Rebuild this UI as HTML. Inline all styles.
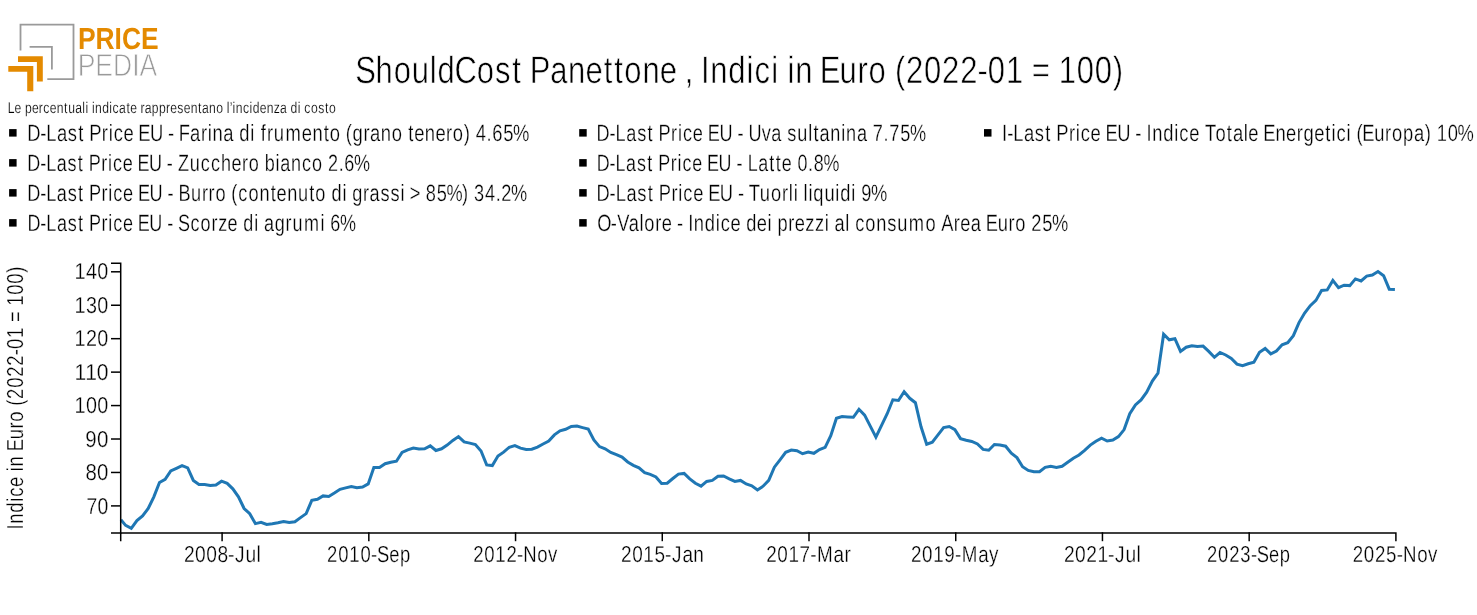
<!DOCTYPE html>
<html><head><meta charset="utf-8"><title>ShouldCost Panettone</title>
<style>html,body{margin:0;padding:0;background:#fff;width:1477px;height:615px;overflow:hidden}
svg{display:block;font-family:"Liberation Sans", sans-serif;will-change:transform}
text{text-rendering:geometricPrecision}
</style></head>
<body><svg width="1477" height="615" viewBox="0 0 1477 615">
<rect width="1477" height="615" fill="#fff"/>
<polyline points="120.90,519.80 125.64,525.40 131.28,528.30 136.92,520.50 142.56,515.90 148.21,508.50 153.85,496.80 159.49,482.50 165.13,479.30 170.77,470.90 176.41,468.30 182.05,465.70 187.69,467.90 193.33,480.40 198.98,484.40 204.62,484.40 210.26,485.40 215.90,485.10 221.54,481.20 227.18,483.40 232.82,488.80 238.46,496.80 244.11,508.50 249.75,513.70 255.39,523.60 261.03,522.30 266.67,524.40 272.31,523.70 277.95,522.80 283.59,521.50 289.23,522.50 294.88,521.70 300.52,517.60 306.16,513.60 311.80,500.40 317.44,499.30 323.08,495.90 328.72,496.50 334.36,493.00 340.00,489.30 345.65,487.90 351.29,486.50 356.93,487.70 362.57,487.10 368.21,483.90 373.85,467.40 379.49,467.40 385.13,463.70 390.78,462.20 396.42,461.20 402.06,452.40 407.70,449.80 413.34,448.00 418.98,448.90 424.62,448.80 430.26,445.90 435.90,450.50 441.55,448.80 447.19,445.10 452.83,440.40 458.47,436.60 464.11,441.90 469.75,443.10 475.39,444.50 481.03,451.00 486.67,464.90 492.32,465.60 497.96,456.10 503.60,452.10 509.24,447.30 514.88,445.60 520.52,448.10 526.16,449.50 531.80,449.20 537.45,447.10 543.09,444.00 548.73,441.00 554.37,434.90 560.01,430.90 565.65,429.30 571.29,426.40 576.93,426.10 582.57,427.60 588.22,429.00 593.86,440.00 599.50,446.60 605.14,448.80 610.78,452.40 616.42,454.60 622.06,457.10 627.70,462.00 633.34,465.30 638.99,467.80 644.63,472.60 650.27,474.40 655.91,477.00 661.55,483.50 667.19,483.20 672.83,478.50 678.47,474.10 684.12,473.40 689.76,478.90 695.40,483.30 701.04,486.20 706.68,481.40 712.32,480.40 717.96,476.30 723.60,476.00 729.24,478.90 734.89,481.40 740.53,480.40 746.17,484.00 751.81,485.80 757.45,489.90 763.09,486.20 768.73,480.40 774.37,467.20 780.01,459.90 785.66,452.30 791.30,450.10 796.94,450.70 802.58,453.70 808.22,452.10 813.86,453.30 819.50,449.50 825.14,447.30 830.78,435.60 836.43,418.30 842.07,416.60 847.71,416.90 853.35,417.30 858.99,409.30 864.63,415.10 870.27,426.10 875.91,437.20 881.56,425.40 887.20,413.70 892.84,399.80 898.48,400.50 904.12,391.70 909.76,398.30 915.40,402.70 921.04,426.80 926.68,444.20 932.33,442.20 937.97,434.90 943.61,427.60 949.25,426.50 954.89,429.60 960.53,438.60 966.17,440.20 971.81,441.50 977.45,444.00 983.10,449.40 988.74,450.20 994.38,444.50 1000.02,445.10 1005.66,446.20 1011.30,453.20 1016.94,457.60 1022.58,466.70 1028.23,470.40 1033.87,471.80 1039.51,471.80 1045.15,467.40 1050.79,466.30 1056.43,467.40 1062.07,466.30 1067.71,462.30 1073.35,458.20 1079.00,455.00 1084.64,450.30 1090.28,445.10 1095.92,441.20 1101.56,438.10 1107.20,441.00 1112.84,440.10 1118.48,436.60 1124.12,429.60 1129.77,413.70 1135.41,404.90 1141.05,400.00 1146.69,392.20 1152.33,381.00 1157.97,373.20 1163.61,334.20 1169.25,339.80 1174.90,338.70 1180.54,351.40 1186.18,347.20 1191.82,345.70 1197.46,346.60 1203.10,346.10 1208.74,351.40 1214.38,357.30 1220.02,352.50 1225.67,355.00 1231.31,358.40 1236.95,364.10 1242.59,365.60 1248.23,363.80 1253.87,362.30 1259.51,352.20 1265.15,348.40 1270.79,353.90 1276.44,351.10 1282.08,344.80 1287.72,342.70 1293.36,335.70 1299.00,322.60 1304.64,313.10 1310.28,305.70 1315.92,300.40 1321.57,290.50 1327.21,289.90 1332.85,280.40 1338.49,287.70 1344.13,285.20 1349.77,285.60 1355.41,278.90 1361.05,281.00 1366.69,276.10 1372.34,275.10 1377.98,271.50 1383.62,275.70 1389.26,289.20 1394.90,289.40" fill="none" stroke="#1f77b4" stroke-width="3" stroke-linejoin="miter"/><g stroke="#000" stroke-width="1.5" fill="none"><path d="M111.0,263.20H120.70V532.95H111.0"/><path d="M111.0,505.90H120.70"/><path d="M111.0,472.46H120.70"/><path d="M111.0,439.01H120.70"/><path d="M111.0,405.57H120.70"/><path d="M111.0,372.13H120.70"/><path d="M111.0,338.68H120.70"/><path d="M111.0,305.24H120.70"/><path d="M111.0,271.80H120.70"/></g><g stroke="#000" stroke-width="1.5" fill="none"><path d="M120.70,541.2V532.95H1395.90V541.2"/><path d="M222.10,532.2V541.2"/><path d="M368.83,532.2V541.2"/><path d="M515.55,532.2V541.2"/><path d="M662.28,532.2V541.2"/><path d="M809.00,532.2V541.2"/><path d="M955.73,532.2V541.2"/><path d="M1102.45,532.2V541.2"/><path d="M1249.18,532.2V541.2"/></g><g class="tx"><text transform="scale(0.81069,1)" x="438.27 463.26 485.55 507.83 530.09 539.75 560.73 588.10 610.67 631.82 643.64 653.60 678.76 700.61 722.15 744.64 757.73 770.10 792.41 813.95 834.93 844.50 854.07 864.83 876.15 898.38 920.80 930.74 951.30 960.24 971.31 980.82 1002.35 1011.29 1035.67 1057.68 1071.38 1093.12 1103.91 1117.48 1139.77 1162.08 1184.37 1205.71 1218.52 1240.81 1262.45 1272.84 1294.93 1305.92 1328.23 1350.52 1372.74" y="82.90" font-size="38.2" fill="#000" stroke="#fff" stroke-width="0.6" vector-effect="non-scaling-stroke">ShouldCost Panettone , Indici in Euro (2022-01 = 100)</text><text transform="scale(0.78126,1)" x="9.93 18.67 27.31 31.89 40.84 49.69 55.48 63.68 72.60 82.08 87.23 96.26 105.32 109.33 113.04 117.61 121.58 130.77 139.99 144.14 152.46 161.85 166.78 175.42 179.81 185.22 194.30 203.51 212.64 218.03 227.04 235.17 244.08 253.57 258.63 267.66 276.88 285.83 290.40 294.04 297.69 301.66 310.97 319.43 323.46 332.42 341.33 350.41 358.51 367.27 371.86 381.09 384.79 389.50 398.01 407.33 415.96 421.11" y="112.90" font-size="15.55" fill="#000" stroke="#fff" stroke-width="0.2" vector-effect="non-scaling-stroke">Le percentuali indicate rappresentano l’incidenza di costo</text><text transform="scale(0.78188,1)" x="34.87 51.44 59.29 72.85 86.81 100.11 107.59 114.09 130.21 138.97 145.34 157.89 171.06 176.96 191.79 208.54 214.90 222.55 228.77 243.12 256.96 265.71 271.83 285.65 299.01 306.08 320.13 325.81 333.42 341.51 350.25 365.03 385.98 399.60 413.92 421.84 435.48 442.32 450.97 464.76 473.07 486.88 500.98 514.63 522.10 529.68 543.30 556.92 570.43 579.17 593.20 601.42 608.46 622.24 629.49 643.58 655.99" y="140.80" font-size="23.5" fill="#000" stroke="#fff" stroke-width="0.3" vector-effect="non-scaling-stroke">D-Last Price EU - Farina di frumento (grano tenero) 4.65%</text><text transform="scale(0.76722,1)" x="35.67 52.35 60.31 74.01 88.11 101.51 109.06 115.67 131.92 140.75 147.22 159.90 173.17 179.18 194.16 211.03 217.46 225.18 232.07 247.27 261.62 274.90 287.93 301.67 315.28 324.14 337.88 345.02 359.16 365.23 379.19 393.54 406.70 420.45 427.59 441.49 448.84 461.40" y="170.80" font-size="23.5" fill="#000" stroke="#fff" stroke-width="0.3" vector-effect="non-scaling-stroke">D-Last Price EU - Zucchero bianco 2.6%</text><text transform="scale(0.77302,1)" x="35.30 51.95 59.89 73.55 87.62 101.00 108.53 115.12 131.33 140.15 146.59 159.25 172.49 178.47 193.42 210.26 216.67 224.38 230.92 247.09 261.16 269.86 278.69 292.41 299.30 308.22 321.36 335.56 350.11 357.77 371.50 385.57 399.97 407.97 421.69 428.83 442.97 448.69 455.82 469.69 478.08 492.15 505.20 518.07 523.79 530.14 543.69 550.81 565.01 577.54 597.75 606.02 613.13 627.34 641.21 648.53 661.05" y="200.80" font-size="23.5" fill="#000" stroke="#fff" stroke-width="0.3" vector-effect="non-scaling-stroke">D-Last Price EU - Burro (contenuto di grassi &gt; 85%) 34.2%</text><text transform="scale(0.76668,1)" x="35.73 52.46 60.45 74.20 88.34 101.78 109.35 116.00 132.29 141.15 147.65 160.38 173.68 179.72 194.75 211.66 218.11 225.86 232.18 248.40 261.61 275.89 284.56 296.83 310.13 317.33 331.53 337.28 344.24 358.31 372.53 381.42 396.44 417.93 423.68 430.87 443.48" y="230.80" font-size="23.5" fill="#000" stroke="#fff" stroke-width="0.3" vector-effect="non-scaling-stroke">D-Last Price EU - Scorze di agrumi 6%</text><text transform="scale(0.77168,1)" x="773.01 789.76 797.77 811.53 825.69 839.15 846.73 853.40 869.70 878.57 885.09 897.83 911.15 917.21 932.27 949.19 955.65 963.41 969.88 987.02 999.42 1012.94 1020.21 1033.20 1047.31 1054.05 1061.98 1076.00 1090.12 1096.40 1110.42 1123.93 1131.12 1145.06 1152.46 1166.77 1179.41" y="140.80" font-size="23.5" fill="#000" stroke="#fff" stroke-width="0.3" vector-effect="non-scaling-stroke">D-Last Price EU - Uva sultanina 7.75%</text><text transform="scale(0.76200,1)" x="783.00 799.80 807.86 821.68 835.91 849.41 857.03 863.75 880.12 889.02 895.58 908.39 921.75 927.86 942.99 959.97 966.47 974.26 981.17 995.00 1009.53 1018.11 1025.90 1039.27 1046.51 1060.50 1067.95 1080.67" y="170.80" font-size="23.5" fill="#000" stroke="#fff" stroke-width="0.3" vector-effect="non-scaling-stroke">D-Last Price EU - Latte 0.8%</text><text transform="scale(0.77784,1)" x="766.96 783.65 791.60 805.30 819.39 832.80 840.34 846.95 863.20 872.03 878.50 891.18 904.44 910.45 925.43 942.29 948.72 956.37 962.64 976.83 991.06 1005.30 1014.12 1020.31 1026.04 1033.09 1039.28 1045.62 1059.83 1073.89 1080.21 1094.36 1100.10 1107.24 1119.80" y="200.80" font-size="23.5" fill="#000" stroke="#fff" stroke-width="0.3" vector-effect="non-scaling-stroke">D-Last Price EU - Tuorli liquidi 9%</text><text transform="scale(0.77712,1)" x="768.46 786.00 794.23 809.04 822.88 829.15 843.17 851.46 864.65 871.03 878.69 885.51 892.79 906.87 920.95 927.34 939.93 953.12 960.21 973.94 987.59 993.28 1000.34 1014.29 1022.58 1036.13 1048.62 1061.19 1066.88 1073.72 1087.57 1093.25 1100.50 1113.56 1127.68 1141.84 1154.66 1169.48 1190.93 1205.25 1211.28 1227.43 1235.72 1249.21 1262.60 1268.41 1283.81 1297.68 1306.44 1320.11 1327.17 1341.30 1353.73" y="230.80" font-size="23.5" fill="#000" stroke="#fff" stroke-width="0.3" vector-effect="non-scaling-stroke">O-Valore - Indice dei prezzi al consumo Area Euro 25%</text><text transform="scale(0.78140,1)" x="1282.23 1288.89 1296.77 1310.38 1324.39 1337.72 1345.22 1351.76 1367.92 1376.71 1383.11 1395.71 1408.91 1414.85 1429.73 1446.52 1452.90 1460.58 1467.40 1474.69 1488.79 1502.88 1509.29 1521.89 1535.02 1542.06 1555.41 1570.04 1577.85 1591.70 1597.51 1610.72 1616.66 1632.20 1645.87 1659.42 1668.15 1681.88 1696.04 1703.99 1710.40 1723.34 1729.03 1735.90 1743.32 1758.74 1772.62 1781.40 1795.61 1809.53 1823.33 1831.57 1838.64 1852.78 1865.24" y="140.80" font-size="23.5" fill="#000" stroke="#fff" stroke-width="0.3" vector-effect="non-scaling-stroke">I-Last Price EU - Indice Totale Energetici (Europa) 10%</text><text transform="scale(0.83420,1)" x="220.51 233.88 247.24 260.61 273.41 281.67 294.26 307.63" y="561.90" font-size="23.0" fill="#000" stroke="#fff" stroke-width="0.3" vector-effect="non-scaling-stroke">2008-Jul</text><text transform="scale(0.80178,1)" x="407.84 421.76 435.69 449.63 462.86 470.13 485.37 498.90" y="561.90" font-size="23.0" fill="#000" stroke="#fff" stroke-width="0.3" vector-effect="non-scaling-stroke">2010-Sep</text><text transform="scale(0.80652,1)" x="586.82 600.51 614.20 627.89 640.95 648.79 666.19 679.61" y="561.90" font-size="23.0" fill="#000" stroke="#fff" stroke-width="0.3" vector-effect="non-scaling-stroke">2012-Nov</text><text transform="scale(0.82658,1)" x="751.29 764.77 778.26 791.75 804.65 813.00 825.58 838.81" y="561.90" font-size="23.0" fill="#000" stroke="#fff" stroke-width="0.3" vector-effect="non-scaling-stroke">2015-Jan</text><text transform="scale(0.82107,1)" x="933.22 946.74 960.26 973.79 986.71 994.95 1015.09 1028.41" y="561.90" font-size="23.0" fill="#000" stroke="#fff" stroke-width="0.3" vector-effect="non-scaling-stroke">2017-Mar</text><text transform="scale(0.81655,1)" x="1115.56 1129.21 1142.86 1156.52 1169.54 1177.92 1198.11 1211.14" y="561.90" font-size="23.0" fill="#000" stroke="#fff" stroke-width="0.3" vector-effect="non-scaling-stroke">2019-May</text><text transform="scale(0.83420,1)" x="1275.42 1288.78 1302.14 1315.51 1328.31 1336.57 1349.17 1362.53" y="561.90" font-size="23.0" fill="#000" stroke="#fff" stroke-width="0.3" vector-effect="non-scaling-stroke">2021-Jul</text><text transform="scale(0.79899,1)" x="1510.64 1524.57 1538.50 1552.43 1565.66 1572.93 1588.17 1601.70" y="561.90" font-size="23.0" fill="#000" stroke="#fff" stroke-width="0.3" vector-effect="non-scaling-stroke">2023-Sep</text><text transform="scale(0.81251,1)" x="1664.78 1678.47 1692.16 1705.86 1718.91 1726.75 1744.15 1757.58" y="561.90" font-size="23.0" fill="#000" stroke="#fff" stroke-width="0.3" vector-effect="non-scaling-stroke">2025-Nov</text><text transform="scale(0.84301,1)" x="102.60 115.78" y="513.50" font-size="23.0" fill="#000" stroke="#fff" stroke-width="0.3" vector-effect="non-scaling-stroke">70</text><text transform="scale(0.88601,1)" x="96.38 109.57" y="480.06" font-size="23.0" fill="#000" stroke="#fff" stroke-width="0.3" vector-effect="non-scaling-stroke">80</text><text transform="scale(0.89159,1)" x="95.58 108.76" y="446.61" font-size="23.0" fill="#000" stroke="#fff" stroke-width="0.3" vector-effect="non-scaling-stroke">90</text><text transform="scale(0.85979,1)" x="86.77 99.96 113.14" y="413.17" font-size="23.0" fill="#000" stroke="#fff" stroke-width="0.3" vector-effect="non-scaling-stroke">100</text><text transform="scale(0.91513,1)" x="81.32 93.06 105.66" y="379.73" font-size="23.0" fill="#000" stroke="#fff" stroke-width="0.3" vector-effect="non-scaling-stroke">110</text><text transform="scale(0.85979,1)" x="86.77 99.96 113.14" y="346.28" font-size="23.0" fill="#000" stroke="#fff" stroke-width="0.3" vector-effect="non-scaling-stroke">120</text><text transform="scale(0.85979,1)" x="86.77 99.96 113.14" y="312.84" font-size="23.0" fill="#000" stroke="#fff" stroke-width="0.3" vector-effect="non-scaling-stroke">130</text><text transform="scale(0.85979,1)" x="86.77 99.96 113.14" y="279.40" font-size="23.0" fill="#000" stroke="#fff" stroke-width="0.3" vector-effect="non-scaling-stroke">140</text></g><g transform="translate(23.10,527.50) rotate(-90)"><text transform="scale(0.79678,1)" x="-2.44 4.66 18.46 32.28 38.52 50.84 63.79 70.64 76.64 89.92 95.57 110.67 124.27 132.83 146.24 152.95 161.43 175.27 189.11 202.95 216.13 224.14 237.97 251.33 257.85 271.48 278.38 292.22 306.05 319.79" y="0" font-size="23.2" fill="#000" stroke="#fff" stroke-width="0.3" vector-effect="non-scaling-stroke">Indice in Euro (2022-01 = 100)</text></g><rect x="9.1" y="129.1" width="7.5" height="7.5" fill="#000"/><rect x="9.1" y="159.1" width="7.5" height="7.5" fill="#000"/><rect x="9.1" y="189.1" width="7.5" height="7.5" fill="#000"/><rect x="9.1" y="219.1" width="7.5" height="7.5" fill="#000"/><rect x="579.2" y="129.1" width="7.5" height="7.5" fill="#000"/><rect x="579.2" y="159.1" width="7.5" height="7.5" fill="#000"/><rect x="579.2" y="189.1" width="7.5" height="7.5" fill="#000"/><rect x="579.2" y="219.1" width="7.5" height="7.5" fill="#000"/><rect x="984.0" y="129.1" width="7.5" height="7.5" fill="#000"/><g>
<path d="M20.5,50.5V24.6H73.5V79.1H47.3" fill="none" stroke="#9a9a9a" stroke-width="1.8"/>
<path d="M29.6,46.8H51.9V69.4" fill="none" stroke="#9a9a9a" stroke-width="1.8"/>
<path d="M18,56.3H42.8V81.6H36.9V62.1H18Z" fill="#e48a00"/>
<path d="M8.3,66.1H33.3V91.3H27.2V71.8H8.3Z" fill="#e48a00"/>
<text x="77.90" y="49.10" font-size="30.5" font-weight="bold" textLength="80.68" lengthAdjust="spacingAndGlyphs" fill="#e48a00">PRICE</text><text x="77.64" y="75.90" font-size="31.8" textLength="79.60" lengthAdjust="spacingAndGlyphs" fill="#9a9a9a" stroke="#fff" stroke-width="0.8">PEDIA</text>
</g>
</svg></body></html>
